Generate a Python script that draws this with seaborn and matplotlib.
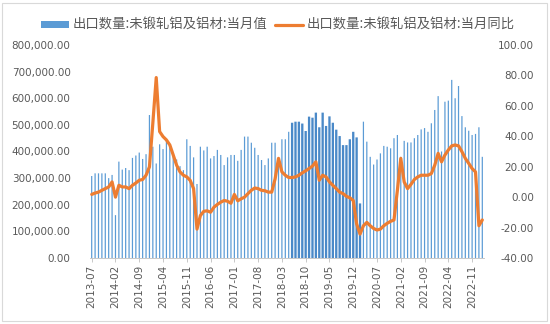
import numpy as np
import pandas as pd
import matplotlib
matplotlib.use("Agg")
import matplotlib.pyplot as plt
from matplotlib.patches import Rectangle
from matplotlib.ticker import FuncFormatter, FixedLocator
import seaborn as sns

# Monthly exports of unwrought aluminium and aluminium products (tonnes)
months = [str(p) for p in pd.period_range("2013-07", periods=116, freq="M")]

export_volume = [
    308000, 318000, 318000, 318000, 318000, 300000, 312000, 161000, 362000, 332000,
    338000, 330000, 376000, 385000, 396000, 372000, 390000, 537000, 418000, 355000,
    427000, 409000, 443000, 420000, 390000, 370000, 345000, 330000, 446000, 421000,
    378000, 278000, 418000, 404000, 418000, 374000, 383000, 406000, 387000, 349000,
    378000, 387000, 387000, 365000, 406000, 456000, 456000, 433000, 414000, 387000,
    368000, 349000, 374000, 433000, 433000, 370000, 446000, 446000, 474000, 508000,
    512000, 512000, 505000, 477000, 531000, 527000, 546000, 491000, 546000, 496000,
    532000, 508000, 482000, 458000, 424000, 424000, 446000, 474000, 453000, 205000,
    512000, 437000, 380000, 351000, 370000, 393000, 421000, 418000, 412000, 450000,
    462000, 380000, 440000, 434000, 434000, 450000, 462000, 483000, 488000, 474000,
    506000, 556000, 608000, 400000, 587000, 591000, 669000, 600000, 646000, 533000,
    491000, 478000, 462000, 466000, 491000, 380000,
]

# Year-on-year change of the monthly figure (%)
yoy_change = [
    1.8, 2.7, 3.3, 4.5, 5.6, 6.7, 10.0, 0.0, 7.8, 6.7,
    6.7, 5.6, 7.8, 9.3, 11.1, 11.6, 14.4, 19.9, 48.7, 78.6,
    43.1, 39.8, 37.6, 34.3, 27.7, 21.0, 16.6, 14.4, 13.3, 11.0,
    5.6, -21.0, -12.1, -9.3, -9.0, -9.9, -6.6, -4.8, -3.3, -2.2,
    -2.7, -4.0, 1.8, -2.4, -1.1, 0.0, 2.3, 4.5, 6.0, 5.6,
    4.5, 4.2, 3.3, 3.3, 12.0, 25.5, 16.6, 14.4, 12.9, 12.9,
    13.3, 14.4, 16.0, 17.3, 18.8, 20.4, 23.2, 11.1, 14.4, 13.3,
    10.0, 7.8, 5.6, 3.3, 2.3, 0.5, -0.4, -2.2, -17.6, -24.3,
    -18.8, -16.6, -18.8, -20.6, -21.6, -21.0, -18.8, -17.2, -15.9, -15.0,
    4.5, 25.5, 10.0, 5.6, 8.4, 11.6, 13.3, 14.4, 14.4, 14.4,
    15.5, 21.0, 28.8, 23.2, 27.7, 31.0, 33.7, 34.3, 33.7, 29.9,
    25.5, 22.2, 18.8, 16.6, -18.8, -15.0,
]

bar_label = "出口数量:未锻轧铝及铝材:当月值"
line_label = "出口数量:未锻轧铝及铝材:当月同比"

df = pd.DataFrame({"month": months, "volume": export_volume, "yoy": yoy_change})
df["pos"] = np.arange(len(df))

sns.set_theme(style="white")
plt.rcParams["font.family"] = ["DejaVu Sans"]

BLUE = "#5B9BD5"
ORANGE = "#ED7D31"
GREY_TXT = "#595959"

fig = plt.figure(figsize=(5.5, 3.24), dpi=100)
ax = fig.add_axes([90 / 550, 1 - 258 / 324, (484 - 90) / 550, (258 - 45) / 324])

sns.barplot(data=df, x="month", y="volume", color=BLUE, saturation=1,
            width=0.36, linewidth=0, ax=ax, label=bar_label)

# thin bars: keep sub-pixel widths instead of snapping to the pixel grid;
# the bars from late 2018 through 2019 are drawn heavier
for k, patch in enumerate(ax.patches):
    patch.set_snap(False)
    patch.set_antialiased(True)
    patch.set_edgecolor("none")
    if 59 <= k <= 79:
        cx = patch.get_x() + patch.get_width() / 2
        patch.set_width(0.68)
        patch.set_x(cx - 0.34)
        patch.set_facecolor("#4A89C8")

ax.set_xlim(-0.5, len(df) - 0.5)
ax.set_ylim(0, 800000)
ax.yaxis.set_major_locator(FixedLocator(np.arange(0, 800001, 100000)))
ax.yaxis.set_major_formatter(FuncFormatter(lambda v, p: f"{v:,.2f}"))
ax.set_xlabel("")
ax.set_ylabel("")

tick_pos = list(range(0, len(df), 7))
ax.set_xticks(tick_pos)
ax.set_xticklabels([months[i] for i in tick_pos], rotation=90)
ax.tick_params(axis="x", labelsize=7.5, colors=GREY_TXT, length=3, width=0.6,
               pad=2, bottom=True, color="#BFBFBF")
ax.tick_params(axis="y", labelsize=7.5, colors=GREY_TXT, length=0, pad=14)

for side in ["top", "left", "right"]:
    ax.spines[side].set_visible(False)
ax.spines["bottom"].set_color("#BFBFBF")
ax.spines["bottom"].set_linewidth(0.6)

ax2 = ax.twinx()
sns.lineplot(data=df, x="pos", y="yoy", color=ORANGE, linewidth=2.3,
             ax=ax2, label=line_label, legend=False)
ax2.set_ylim(-40, 100)
ax2.yaxis.set_major_locator(FixedLocator(np.arange(-40, 101, 20)))
ax2.yaxis.set_major_formatter(FuncFormatter(lambda v, p: f"{v:.2f}"))
ax2.set_ylabel("")
ax2.tick_params(axis="y", labelsize=7.5, colors=GREY_TXT, length=0, pad=36)
for lbl in ax2.get_yticklabels():
    lbl.set_horizontalalignment("right")
for side in ["top", "left", "right", "bottom"]:
    ax2.spines[side].set_visible(False)
ax2.set_xlim(-0.5, len(df) - 0.5)

h1, l1 = ax.get_legend_handles_labels()
h2, l2 = ax2.get_legend_handles_labels()
if ax.get_legend() is not None:
    ax.get_legend().remove()
fig.legend(h1 + h2, l1 + l2, loc="center", bbox_to_anchor=(0.505, 1 - 25 / 324),
           ncol=2, frameon=False, handlelength=2.1, handleheight=0.45,
           handletextpad=0.25, columnspacing=0.6,
           prop={"family": ["Noto Sans CJK SC", "DejaVu Sans"], "size": 9.6},
           labelcolor=GREY_TXT)

fig.add_artist(Rectangle((2 / 550, 3 / 324), 545 / 550, 318 / 324,
                         transform=fig.transFigure, fill=False,
                         edgecolor="#D9D9D9", linewidth=0.8))

fig.savefig("out.png", dpi=100)
